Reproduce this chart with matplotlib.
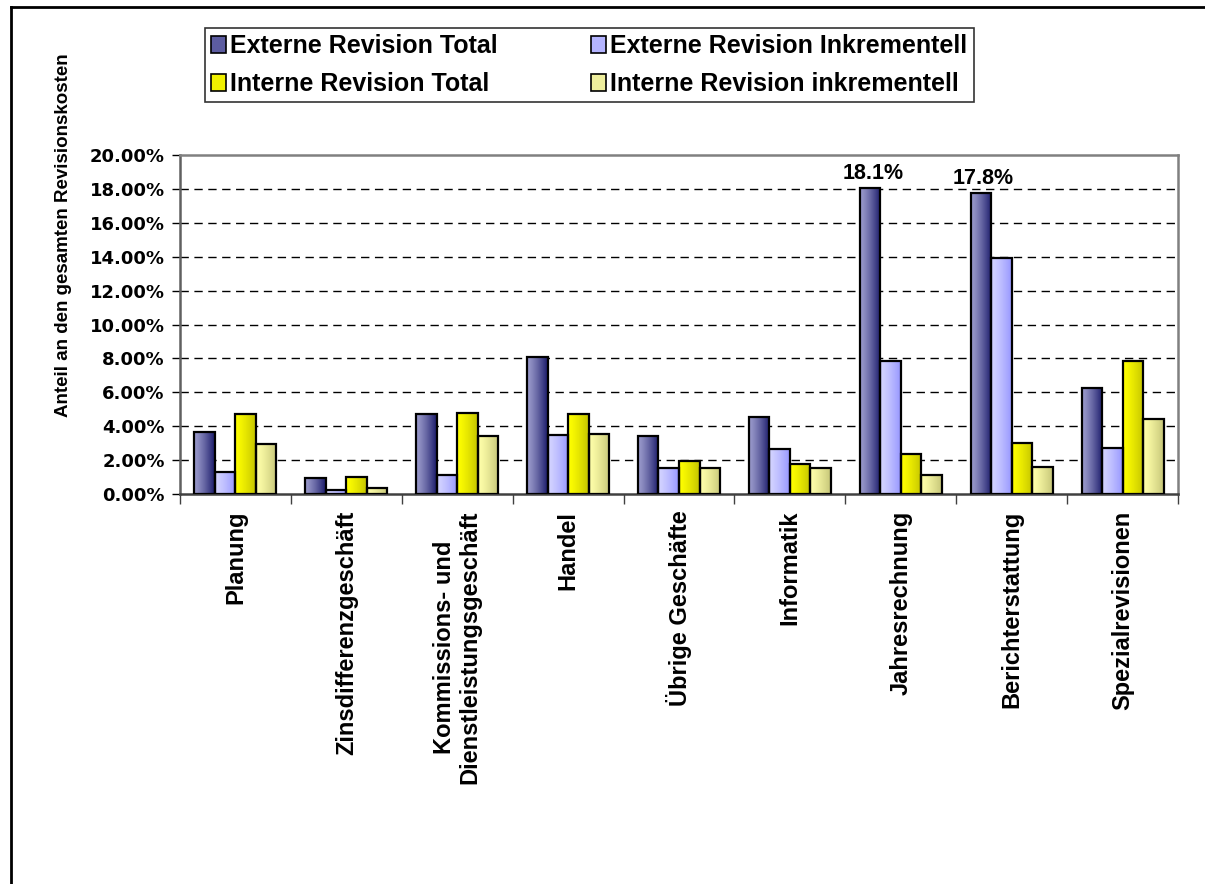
import numpy as np
import matplotlib
matplotlib.use("Agg")
import matplotlib.pyplot as plt
from matplotlib.colors import LinearSegmentedColormap
from matplotlib.patches import Patch
from matplotlib.lines import Line2D
from matplotlib.ticker import FuncFormatter, FixedLocator

categories = ['Planung', 'Zinsdifferenzgeschäft', 'Kommissions- und\nDienstleistungsgeschäft',
              'Handel', 'Übrige Geschäfte', 'Informatik', 'Jahresrechnung',
              'Berichterstattung', 'Spezialrevisionen']

series_names = ['Externe Revision Total', 'Externe Revision Inkrementell',
                'Interne Revision Total', 'Interne Revision inkrementell']

ext_total = [3.68, 0.93, 4.70, 8.11, 3.41, 4.55, 18.07, 17.76, 6.24]
ext_inkr = [1.32, 0.24, 1.14, 3.48, 1.56, 2.64, 7.87, 13.92, 2.70]
int_total = [4.70, 0.98, 4.80, 4.70, 1.93, 1.77, 2.34, 2.99, 7.83]
int_inkr = [2.97, 0.37, 3.44, 3.54, 1.52, 1.52, 1.14, 1.57, 4.41]

labels_on_top = {6: '18.1%', 7: '17.8%'}

# left colour, right colour, legend colour
gradients = [('#9a9acb', '#1a1a6a', '#5c5ca0'),
             ('#d4d4ff', '#9797ff', '#b4b4ff'),
             ('#ffff00', '#c4c400', '#f0f000'),
             ('#ffffaa', '#c6c678', '#eeee9c')]

plt.rcParams['font.family'] = ['Liberation Sans', 'DejaVu Sans']
plt.rcParams['font.weight'] = 'bold'

fig = plt.figure(figsize=(12.05, 8.84), dpi=100)
ax = fig.add_axes([180 / 1205, 1 - 494 / 884, (1178 - 180) / 1205, (494 - 155) / 884])

x = np.arange(len(categories))
w = 0.185
all_series = [ext_total, ext_inkr, int_total, int_inkr]

for i, vals in enumerate(all_series):
    offs = (i - 1.5) * w
    bars = ax.bar(x + offs, vals, w, facecolor='none', edgecolor='black',
                  linewidth=1.6, zorder=4)
    cmap = LinearSegmentedColormap.from_list('g%d' % i, [gradients[i][0], gradients[i][1]])
    grad = np.linspace(0, 1, 64).reshape(1, -1) ** 1.3
    for b in bars:
        bx, by = b.get_x(), b.get_y()
        ax.imshow(grad, extent=[bx, bx + b.get_width(), by, by + b.get_height()],
                  aspect='auto', cmap=cmap, zorder=3, interpolation='bilinear')

for idx, txt in labels_on_top.items():
    ax.annotate(txt, (x[idx] - 1.5 * w, ext_total[idx]), xytext=(2, 3),
                textcoords='offset points', ha='center', va='bottom',
                fontsize=15.5, fontweight='bold')

ax.set_xlim(-0.5, len(categories) - 0.5)
ax.set_ylim(0, 20)

# grid
for yv in np.arange(2, 20, 2):
    ax.axhline(yv, color='black', linewidth=1, linestyle=(0, (6, 4)), zorder=1)

ax.set_yticks(np.arange(0, 21, 2))
ax.yaxis.set_major_formatter(FuncFormatter(lambda v, p: '%.2f%%' % v))
for t in ax.get_yticklabels():
    t.set_fontfamily('DejaVu Sans')
    t.set_fontweight('bold')
    t.set_fontsize(13)
ax.tick_params(axis='y', direction='out', length=6, width=1, pad=5, colors='black')

ax.set_xticks(x)
ax.set_xticklabels(categories, rotation=90, ha='center', va='top',
                   fontsize=17, fontweight='bold', multialignment='center',
                   linespacing=1.15)
ax.tick_params(axis='x', which='major', length=0, pad=12)
ax.xaxis.set_minor_locator(FixedLocator(np.arange(-0.5, len(categories), 1)))
ax.tick_params(axis='x', which='minor', direction='out', length=7, width=1, color='#404040')

for s in ax.spines.values():
    s.set_color('#808080')
    s.set_linewidth(1.8)
ax.spines['left'].set_color('#606060')
ax.spines['bottom'].set_color('#404040')

ax.set_ylabel('Anteil an den gesamten Revisionskosten', fontsize=13.5,
              fontweight='bold')
ax.yaxis.set_label_coords(-0.108, 0.764)

handles = [Patch(facecolor=gradients[i][2], edgecolor='black', linewidth=1.2) for i in range(4)]
order = [0, 2, 1, 3]
leg = fig.legend([handles[i] for i in order], [series_names[i] for i in order],
                 ncol=2, loc='upper left',
                 bbox_to_anchor=(205 / 1205, 1 - 28 / 884),
                 frameon=True, fancybox=False, edgecolor='black',
                 prop={'weight': 'bold', 'size': 18}, handlelength=0.6,
                 handleheight=0.65, handletextpad=0.15, borderpad=0.25,
                 labelspacing=0.55, columnspacing=3.75, borderaxespad=0)
leg.get_frame().set_linewidth(1.2)

# outer border (top and left)
fig.add_artist(Line2D([11 / 1205, 11 / 1205], [0, 1 - 7 / 884], color='black',
                      linewidth=2, transform=fig.transFigure))
fig.add_artist(Line2D([11 / 1205, 1], [1 - 7 / 884, 1 - 7 / 884], color='black',
                      linewidth=2, transform=fig.transFigure))

fig.savefig('out.png', dpi=100)
